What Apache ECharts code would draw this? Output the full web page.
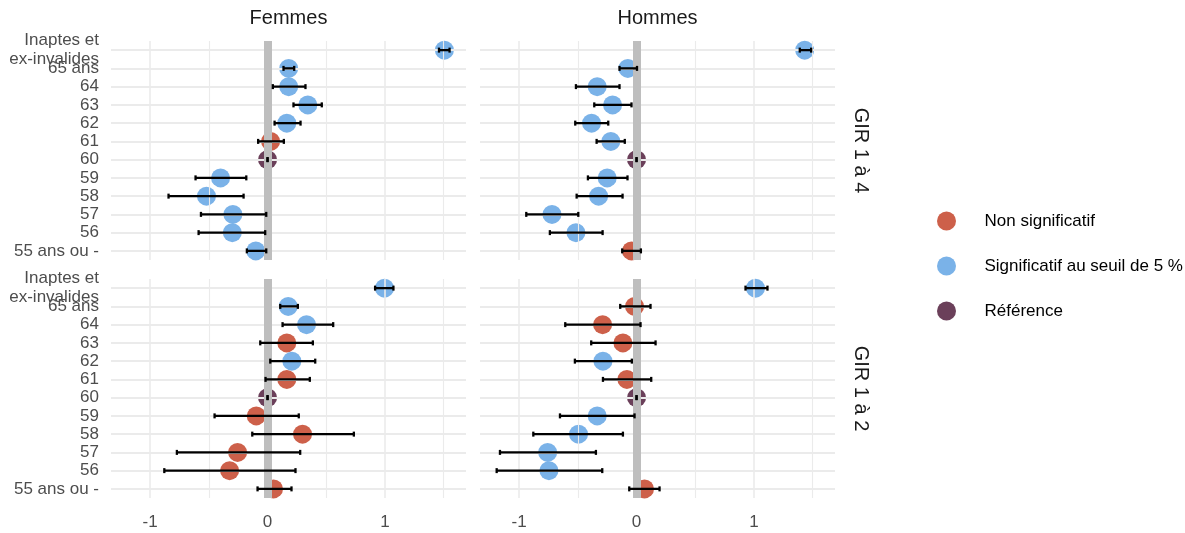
<!DOCTYPE html>
<html>
<head>
<meta charset="utf-8">
<script src="https://cdn.jsdelivr.net/npm/echarts@6/dist/echarts.min.js"></script>
<style>html,body{margin:0;padding:0;background:#fff}#c{width:1185px;height:533px}</style>
</head>
<body>
<div id="c"></div>
<script>
// ---- Data ----
const categories = ['55 ans ou -','56','57','58','59','60','61','62','63','64','65 ans','Inaptes et\nex-invalides'];
const columns = ['Femmes','Hommes'];
const rows = ['GIR 1 à 4','GIR 1 à 2'];
const statusNames = {NS:'Non significatif', S:'Significatif au seuil de 5 %', R:'Référence'};

// Femmes, GIR 1 à 4
const femmesGir14Value = [-0.10, -0.30, -0.295, -0.52, -0.40, 0, 0.026, 0.164, 0.343, 0.18, 0.18, 1.506];
const femmesGir14Low   = [-0.176, -0.587, -0.567, -0.843, -0.613, 0, -0.08, 0.06, 0.221, 0.045, 0.136, 1.46];
const femmesGir14High  = [-0.011, -0.02, -0.011, -0.204, -0.181, 0, 0.139, 0.281, 0.462, 0.323, 0.227, 1.55];
const femmesGir14Status = ['S','S','S','S','S','R','NS','S','S','S','S','S'];

// Hommes, GIR 1 à 4
const hommesGir14Value = [-0.043, -0.516, -0.72, -0.323, -0.25, 0, -0.219, -0.383, -0.204, -0.335, -0.074, 1.432];
const hommesGir14Low   = [-0.122, -0.738, -0.939, -0.51, -0.414, 0, -0.34, -0.522, -0.36, -0.516, -0.145, 1.39];
const hommesGir14High  = [0.037, -0.289, -0.496, -0.119, -0.077, 0, -0.1, -0.241, -0.043, -0.145, 0.004, 1.487];
const hommesGir14Status = ['NS','S','S','S','S','R','S','S','S','S','S','S'];

// Femmes, GIR 1 à 2
const femmesGir12Value = [0.051, -0.323, -0.255, 0.298, -0.096, 0, 0.164, 0.207, 0.164, 0.332, 0.176, 0.996];
const femmesGir12Low   = [-0.085, -0.879, -0.772, -0.13, -0.451, 0, -0.017, 0.023, -0.062, 0.128, 0.108, 0.916];
const femmesGir12High  = [0.204, 0.238, 0.278, 0.735, 0.266, 0, 0.36, 0.406, 0.386, 0.559, 0.258, 1.072];
const femmesGir12Status = ['NS','NS','NS','NS','NS','R','NS','S','NS','S','S','S'];

// Hommes, GIR 1 à 2
const hommesGir12Value = [0.068, -0.746, -0.757, -0.494, -0.335, 0, -0.082, -0.286, -0.116, -0.289, -0.017, 1.013];
const hommesGir12Low   = [-0.062, -1.191, -1.163, -0.879, -0.652, 0, -0.286, -0.525, -0.386, -0.607, -0.139, 0.928];
const hommesGir12High  = [0.196, -0.292, -0.346, -0.116, -0.017, 0, 0.125, -0.04, 0.162, 0.034, 0.119, 1.115];
const hommesGir12Status = ['NS','S','S','S','S','R','NS','S','NS','NS','NS','S'];

const xTicks = [-1, -0.5, 0, 0.5, 1, 1.5];

// ---- Font detection ----
function hasFont(name){
  const c = document.createElement('canvas').getContext('2d');
  const t = 'Non significatif Femmes 0123';
  c.font = '20px monospace'; const a = c.measureText(t).width;
  c.font = '20px "' + name + '", monospace'; const b = c.measureText(t).width;
  return Math.abs(a - b) > 0.5;
}
const NARROW = hasFont('Liberation Sans Narrow');
const FF = NARROW ? '"Liberation Sans Narrow", "Arial Narrow", sans-serif' : '"Liberation Sans", Arial, sans-serif';
const K = NARROW ? 1 : 0.85;
const FS = Math.round(20 * K), FS_STRIP = Math.round(24 * K);

const colors = {NS:'#CD604A', S:'#7AB2E8', R:'#6B405A'};

const panels = [
  {col:0,row:0,v:femmesGir14Value,lo:femmesGir14Low,hi:femmesGir14High,st:femmesGir14Status},
  {col:1,row:0,v:hommesGir14Value,lo:hommesGir14Low,hi:hommesGir14High,st:hommesGir14Status},
  {col:0,row:1,v:femmesGir12Value,lo:femmesGir12Low,hi:femmesGir12High,st:femmesGir12Status},
  {col:1,row:1,v:hommesGir12Value,lo:hommesGir12Low,hi:hommesGir12High,st:hommesGir12Status}
];

const gridLeft = [111, 480], gridW = 355;
const gridTop = [41, 279], gridH = 219;

const grids = [], xAxes = [], yAxes = [], series = [];
panels.forEach((p, i) => {
  grids.push({left: gridLeft[p.col], top: gridTop[p.row], width: gridW, height: gridH, containLabel:false, outerBoundsMode:'none'});
  xAxes.push({
    type:'value', gridIndex:i, min:-1.333, max:1.69,
    splitLine:{show:false}, axisLine:{show:false}, axisTick:{show:false},
    axisLabel:{show: p.row === 1, showMinLabel:false, showMaxLabel:false, margin:16,
      color:'#4D4D4D', fontSize:FS, fontFamily:FF,
      formatter: v => Math.abs(v - Math.round(v)) < 1e-9 ? String(Math.round(v)) : ''}
  });
  yAxes.push({
    type:'category', gridIndex:i, data:categories, boundaryGap:true,
    splitLine:{show:false}, axisLine:{show:false}, axisTick:{show:false},
    axisLabel:{show: p.col === 0, interval:0, margin:12, color:'#4D4D4D', fontSize:FS, fontFamily:FF, lineHeight:19, align:'right'}
  });
  // grid lines + zero reference line
  const ml = [];
  xTicks.forEach(t => ml.push({xAxis:t, lineStyle:{color:'#EBEBEB', width: Number.isInteger(t) ? 1.6 : 1.1, type:'solid'}}));
  categories.forEach((c, k) => ml.push({yAxis:k, lineStyle:{color:'#EBEBEB', width:2, type:'solid'}}));
  ml.push({xAxis:0, lineStyle:{color:'#BEBEBE', width:8, type:'solid'}});
  series.push({
    type:'scatter', xAxisIndex:i, yAxisIndex:i, data:[], silent:true, z:1,
    markLine:{silent:true, symbol:['none','none'], label:{show:false}, animation:false, data: ml.map(d => Object.assign(d, {emphasis:{disabled:true}}))}
  });
  // points
  ['NS','S','R'].forEach(s => {
    const data = [];
    p.v.forEach((val, k) => { if (p.st[k] === s) data.push([val, k]); });
    series.push({
      type:'scatter', name: statusNames[s], xAxisIndex:i, yAxisIndex:i, z:3,
      symbol:'circle', symbolSize:19, itemStyle:{color:colors[s], opacity:1, borderWidth:0},
      emphasis:{disabled:true},
      data: data, animation:false
    });
  });
  // error bars
  series.push({
    type:'custom', xAxisIndex:i, yAxisIndex:i, z:5, silent:true, animation:false,
    encode:{x:[1,2], y:0},
    data: categories.map((c, k) => [k, p.lo[k], p.hi[k]]),
    renderItem: (params, api) => {
      const y = api.value(0);
      const a = api.coord([api.value(1), y]);
      const b = api.coord([api.value(2), y]);
      const h = 2.5;
      const st = {stroke:'#000', lineWidth:2.3};
      return {type:'group', children:[
        {type:'line', shape:{x1:a[0], y1:a[1], x2:b[0], y2:b[1]}, style:st},
        {type:'line', shape:{x1:a[0], y1:a[1]-h, x2:a[0], y2:a[1]+h}, style:st},
        {type:'line', shape:{x1:b[0], y1:b[1]-h, x2:b[0], y2:b[1]+h}, style:st}
      ]};
    }
  });
});

const graphics = [];
columns.forEach((c, i) => graphics.push({type:'text', x: gridLeft[i] + gridW/2, y: 18,
  style:{text:c, fontSize:FS_STRIP, fontFamily:FF, fill:'#1A1A1A', align:'center', verticalAlign:'middle'}}));
rows.forEach((r, i) => graphics.push({type:'text', x: 861, y: gridTop[i] + gridH/2, rotation: -Math.PI/2,
  style:{text:r, fontSize:FS_STRIP, fontFamily:FF, fill:'#1A1A1A', align:'center', verticalAlign:'middle'}}));

const chart = echarts.init(document.getElementById('c'), null, {renderer:'canvas'});
chart.setOption({
  backgroundColor:'#fff',
  animation:false,
  grid: grids, xAxis: xAxes, yAxis: yAxes, series: series,
  graphic: graphics,
  legend: {
    data: [statusNames.NS, statusNames.S, statusNames.R],
    orient:'vertical', left: 937, top: 211, icon:'circle',
    itemWidth: 20, itemHeight: 19, itemGap: 25, padding: 0,
    selectedMode: false,
    textStyle:{fontSize:FS, fontFamily:FF, color:'#000', padding:[0,0,0,23], lineHeight:20}
  }
});
</script>
</body>
</html>
